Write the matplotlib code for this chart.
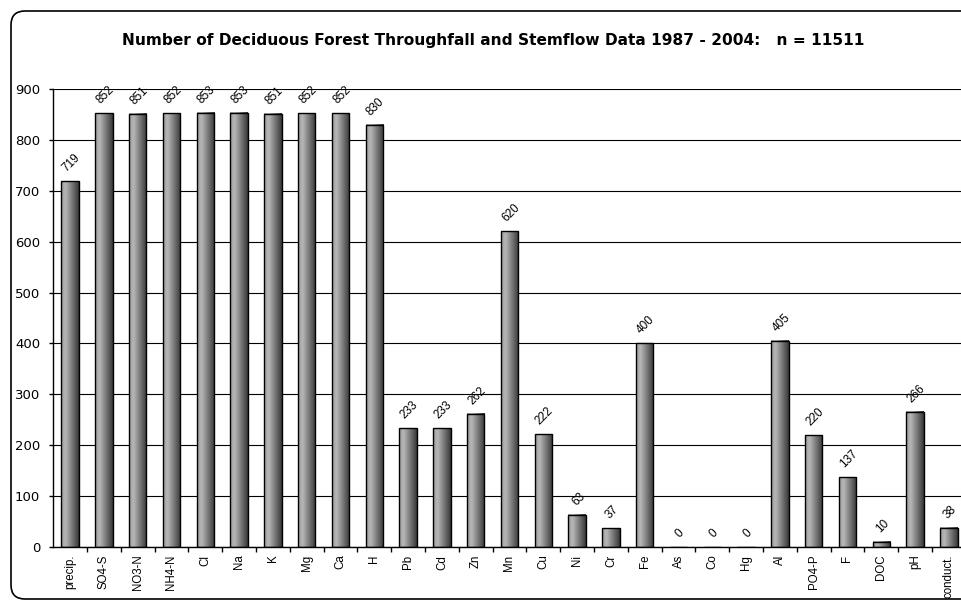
import matplotlib.pyplot as plt
import numpy as np
from matplotlib.path import Path
from matplotlib.patches import PathPatch
from matplotlib.transforms import IdentityTransform

categories = ['precip.', 'SO4-S', 'NO3-N', 'NH4-N', 'Cl', 'Na', 'K', 'Mg', 'Ca', 'H',
              'Pb', 'Cd', 'Zn', 'Mn', 'Cu', 'Ni', 'Cr', 'Fe', 'As', 'Co', 'Hg',
              'Al', 'PO4-P', 'F', 'DOC', 'pH', 'conduct.']
counts = [719, 852, 851, 852, 853, 853, 851, 852, 852, 830,
          233, 233, 262, 620, 222, 63, 37, 400, 0, 0, 0,
          405, 220, 137, 10, 266, 38]
yticks = list(range(0, 901, 100))
title = 'Number of Deciduous Forest Throughfall and Stemflow Data 1987 - 2004:   n = 11511'


def plot_data():
    W, H = 962, 600
    fig = plt.figure(figsize=(W / 100, H / 100), dpi=100)
    fig.patch.set_facecolor('white')

    # open rounded chart frame (pixels): the right side lies off the picture
    r, x0, y0, y1, xe = 14, 11, 1, 589, 1100
    verts = [(xe, y1), (x0 + r, y1), (x0, y1), (x0, y1 - r),
             (x0, y0 + r), (x0, y0), (x0 + r, y0), (xe, y0)]
    codes = [Path.MOVETO, Path.LINETO, Path.CURVE3, Path.CURVE3,
             Path.LINETO, Path.CURVE3, Path.CURVE3, Path.LINETO]
    frame = PathPatch(Path(verts, codes), transform=IdentityTransform(),
                      fc='none', ec='black', lw=1.2)
    fig.patches.append(frame)

    fig.text(493 / W, 1 - 41 / H, title, ha='center', va='center',
             fontsize=11.1, fontweight='bold', family='DejaVu Sans')

    n = len(categories)
    step = 33.8
    ax = fig.add_axes([53.2 / W, 53 / H, n * step / W, 458 / H])
    x = np.arange(n)
    width = 0.52

    # cylinder-like gradient fill for each bar
    grad = np.interp(np.linspace(0, 1, 64), [0, 0.25, 1], [0.60, 0.72, 0.22])[None, :]
    for xi, v in zip(x, counts):
        if v > 0:
            ax.imshow(grad, extent=(xi - width / 2, xi + width / 2, 0, v), aspect='auto',
                      cmap='gray', vmin=0, vmax=1, zorder=1, interpolation='bilinear')
    ax.bar(x, counts, width=width, fill=False, edgecolor='black', lw=1.0, zorder=2)

    for xi, v in zip(x, counts):
        ax.annotate(str(v), (xi, v), xytext=(1, 5), textcoords='offset points',
                    ha='center', va='bottom', rotation=45, fontsize=8.5,
                    family='Liberation Sans')

    ax.set_xlim(-0.5, n - 0.5)
    ax.set_ylim(0, 900)
    ax.set_yticks(yticks)
    ax.set_yticklabels([str(t) for t in yticks], fontsize=9.5, family='DejaVu Sans')
    ax.tick_params(axis='y', length=3, width=1, pad=6.5)
    ax.yaxis.grid(True, color='black', lw=0.8)
    ax.set_axisbelow(True)

    ax.set_xticks(x)
    ax.set_xticklabels(categories, rotation=90, fontsize=8.3, family='Liberation Sans')
    ax.tick_params(axis='x', which='major', length=0, pad=5.5)
    ax.set_xticks(np.arange(0.5, n - 0.5, 1), minor=True)
    ax.tick_params(axis='x', which='minor', length=3.6, width=1)

    for s in ['top', 'right']:
        ax.spines[s].set_visible(False)
    for s in ['left', 'bottom']:
        ax.spines[s].set_linewidth(1)

    fig.savefig('out.png', dpi=100)
    plt.close()


if __name__ == '__main__':
    plot_data()
